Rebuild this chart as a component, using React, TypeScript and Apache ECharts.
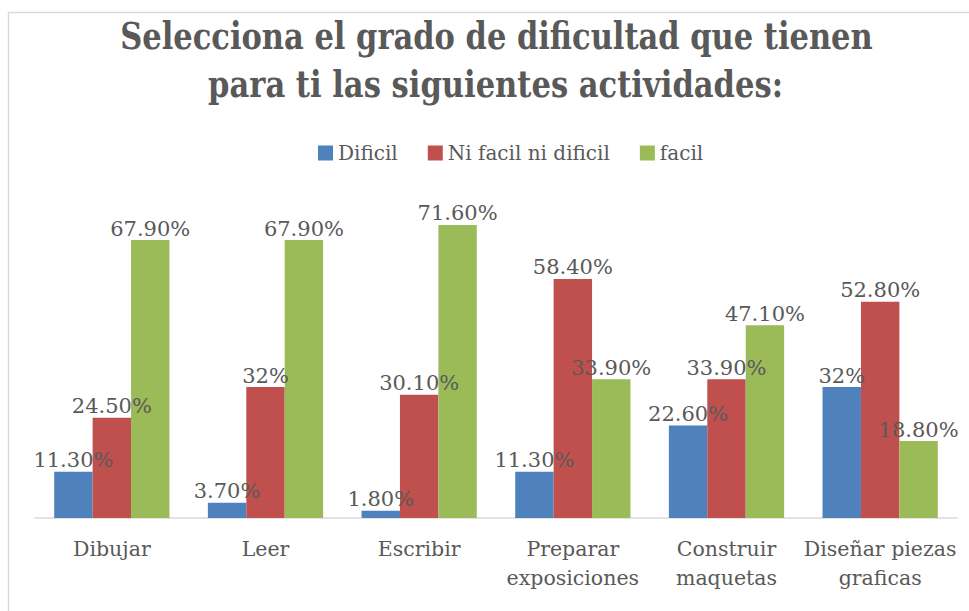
import React, { useEffect, useRef } from "react";
import * as echarts from "echarts";

const categories = ["Dibujar", "Leer", "Escribir", "Preparar exposiciones", "Construir maquetas", "Diseñar piezas graficas"];
const seriesNames = ["Dificil", "Ni facil ni dificil", "facil"];
const dificil = [11.3, 3.7, 1.8, 11.3, 22.6, 32];
const niFacilNiDificil = [24.5, 32, 30.1, 58.4, 33.9, 52.8];
const facil = [67.9, 67.9, 71.6, 33.9, 47.1, 18.8];
const colors = ["#4f81bd", "#c0504d", "#9bbb59"];
const titleLines = ["Selecciona el grado de dificultad que tienen", "para ti las siguientes actividades:"];

const TEXT = "#595959";
const SERIF = '"DejaVu Serif", "Liberation Serif", serif';

function measure(text: string, font: string): number {
  const c = document.createElement("canvas");
  const ctx = c.getContext("2d");
  if (!ctx) return text.length * 20;
  ctx.font = font;
  return ctx.measureText(text).width;
}

function wrapLabel(v: string): string {
  if (v.indexOf(" ") < 0) return v;
  const i = v.lastIndexOf(" ");
  return v.slice(0, i) + "\n" + v.slice(i + 1);
}

function fmt(v: number): string {
  return Number.isInteger(v) ? v + "%" : v.toFixed(2) + "%";
}

export default function App() {
  const ref = useRef<HTMLDivElement>(null);
  useEffect(() => {
    if (!ref.current) return;
    const chart = echarts.init(ref.current, undefined, { renderer: "svg" });
    const titleFont = 'bold 37px "DejaVu Serif"';
    const targets = [
      { w: 753, cx: 496.5, y: 35.5 },
      { w: 575, cx: 495.5, y: 83.5 },
    ];
    const titleGraphics = titleLines.map((t, i) => {
      const w = measure(t, titleFont);
      const sx = targets[i].w / w;
      return {
        type: "text",
        x: targets[i].cx,
        y: targets[i].y,
        scaleX: sx,
        scaleY: 1,
        silent: true,
        style: {
          text: t,
          fill: TEXT,
          font: 'bold 37px "DejaVu Serif", serif',
          align: "center",
          verticalAlign: "middle",
        },
      };
    });
    const data = [dificil, niFacilNiDificil, facil];
    chart.setOption({
      animation: false,
      backgroundColor: "#ffffff",
      color: colors,
      graphic: [
        {
          type: "polyline",
          silent: true,
          shape: { points: [[8.5, 611], [8.5, 12.5], [969, 12.5]] },
          style: { stroke: "#d9d9d9", lineWidth: 1.5, fill: "none" },
        },
        ...titleGraphics,
      ],
      legend: {
        left: 313,
        top: 138,
        icon: "rect",
        itemWidth: 15,
        itemHeight: 15,
        itemGap: 30,
        textStyle: { color: TEXT, fontFamily: SERIF, fontSize: 20 },
        data: seriesNames,
      },
      grid: { left: 35, right: 12, top: 190.5, bottom: 93, containLabel: false },
      xAxis: {
        type: "category",
        data: categories,
        axisLine: { lineStyle: { color: "#d9d9d9", width: 1.5 } },
        axisTick: { show: false },
        axisLabel: {
          color: TEXT,
          fontFamily: SERIF,
          fontSize: 20.5,
          lineHeight: 29,
          margin: 16,
          interval: 0,
          formatter: (v: string) => wrapLabel(v),
        },
      },
      yAxis: {
        type: "value",
        min: 0,
        max: 80,
        show: false,
        splitLine: { show: false },
      },
      series: seriesNames.map((name, i) => ({
        name,
        type: "bar",
        data: data[i],
        barGap: "0%",
        barCategoryGap: "25%",
        itemStyle: { color: colors[i] },
        label: {
          show: true,
          position: "top",
          distance: 1,
          color: TEXT,
          fontFamily: SERIF,
          fontSize: 21,
          formatter: (p: any) => fmt(p.value),
        },
      })),
    });
    return () => chart.dispose();
  }, []);
  return <div ref={ref} style={{ position: "fixed", left: 0, top: 0, width: 969, height: 611 }} />;
}
